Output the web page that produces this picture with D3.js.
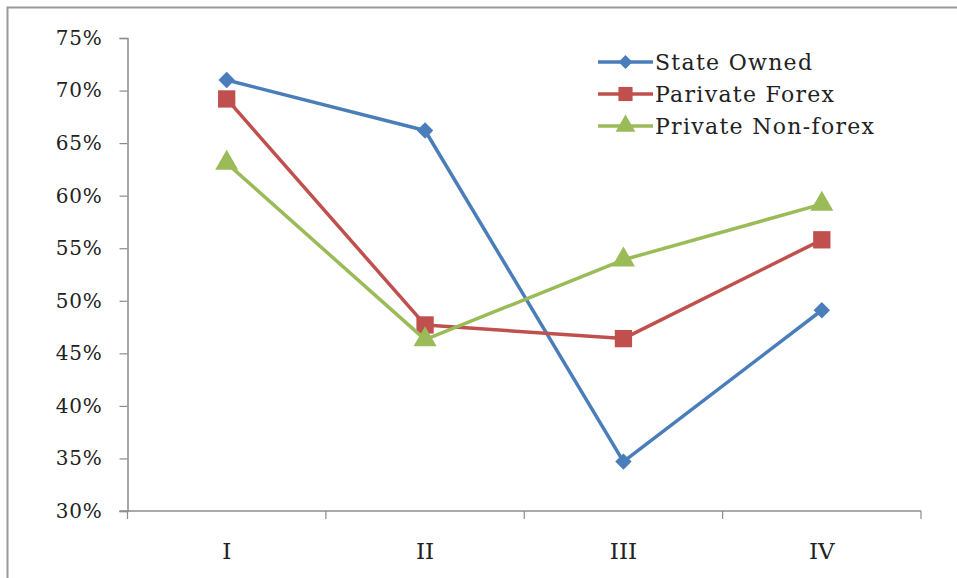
<!DOCTYPE html>
<html>
<head>
<meta charset="utf-8">
<script src="https://cdn.jsdelivr.net/npm/d3@7"></script>
<style>
  html, body { margin: 0; padding: 0; background: #fff; }
  svg { display: block; }
  text { font-family: "DejaVu Serif", "Liberation Serif", serif; fill: #222; }
</style>
</head>
<body>
<svg id="chart" width="957" height="578"></svg>
<script>
// Quarters on the x axis
const categories = ["I", "II", "III", "IV"];

// Share by bank group (percent)
const stateOwned = [71.0, 66.2, 34.7, 49.1];
const parivateForex = [69.2, 47.7, 46.4, 55.8];
const privateNonForex = [63.1, 46.3, 53.9, 59.2];

const yTicks = [30, 35, 40, 45, 50, 55, 60, 65, 70, 75];

const seriesNames = ["State Owned", "Parivate Forex", "Private Non-forex"];
const seriesColors = ["#4a7ebb", "#c0504d", "#9bbb59"];

// Marker shapes: diamond is a square turned 45 degrees
const markerDefs = [
  { type: d3.symbolSquare, size: 135, rotate: 45 },
  { type: d3.symbolSquare, size: 300, rotate: 0 },
  { type: d3.symbolTriangle, size: 230, rotate: 0 }
];
const legendMarkerDefs = [
  { type: d3.symbolSquare, size: 95, rotate: 45 },
  { type: d3.symbolSquare, size: 200, rotate: 0 },
  { type: d3.symbolTriangle, size: 170, rotate: 0 }
];
const seriesValues = [stateOwned, parivateForex, privateNonForex];

const svg = d3.select("#chart");

// Outer frame (top and left edges)
svg.append("path")
  .attr("d", "M7.5,578 V7.5 H957")
  .attr("fill", "none")
  .attr("stroke", "#9a9a9a")
  .attr("stroke-width", 2);

const plot = { left: 127.5, right: 921, top: 38, bottom: 511 };

const x = d3.scaleBand().domain(categories).range([plot.left, plot.right]);
const y = d3.scaleLinear().domain([30, 75]).range([plot.bottom, plot.top]);

// Y axis
const yAxis = svg.append("g")
  .attr("transform", `translate(${plot.left},0)`)
  .call(d3.axisLeft(y).tickValues(yTicks).tickSize(8).tickPadding(17)
    .tickFormat(d => d + "%"));
yAxis.select(".domain").attr("stroke", "#8c8c8c").attr("stroke-width", 1.5);
yAxis.selectAll(".tick line").attr("stroke", "#8c8c8c").attr("stroke-width", 1.2);
yAxis.selectAll(".tick text")
  .attr("font-size", 20)
  .attr("letter-spacing", 0.8)
  .attr("font-family", "DejaVu Serif, serif")
  .attr("fill", "#333");

// X axis with tick marks on band boundaries
const xAxis = svg.append("g")
  .attr("transform", `translate(0,${plot.bottom})`);
xAxis.append("line")
  .attr("x1", plot.left - 8).attr("x2", plot.right)
  .attr("stroke", "#8c8c8c").attr("stroke-width", 1.5);
const bounds = categories.map(c => x(c)).concat([x(categories[categories.length - 1]) + x.bandwidth()]);
xAxis.selectAll("line.xt").data(bounds).join("line")
  .attr("class", "xt")
  .attr("x1", d => d).attr("x2", d => d)
  .attr("y1", 0).attr("y2", 8)
  .attr("stroke", "#8c8c8c").attr("stroke-width", 1.2);
xAxis.selectAll("text").data(categories).join("text")
  .attr("x", d => x(d) + x.bandwidth() / 2)
  .attr("y", 48)
  .attr("text-anchor", "middle")
  .attr("font-size", 23)
  .attr("font-family", "Liberation Serif, serif")
  .attr("fill", "#222")
  .text(d => d);

const cx = c => x(c) + x.bandwidth() / 2;
const line = d3.line().x((d, i) => cx(categories[i])).y(d => y(d));

// Series lines and markers
seriesValues.forEach((vals, s) => {
  const g = svg.append("g");
  g.append("path")
    .attr("d", line(vals))
    .attr("fill", "none")
    .attr("stroke", seriesColors[s])
    .attr("stroke-width", 3.5)
    .attr("stroke-linejoin", "round");
  const m = markerDefs[s];
  g.selectAll("path.m").data(vals).join("path")
    .attr("class", "m")
    .attr("transform", (d, i) => `translate(${cx(categories[i])},${y(d)}) rotate(${m.rotate})`)
    .attr("d", d3.symbol().type(m.type).size(m.size))
    .attr("fill", seriesColors[s]);
});

// Legend
const legend = svg.append("g").attr("transform", "translate(598,62)");
seriesNames.forEach((name, s) => {
  const row = legend.append("g").attr("transform", `translate(0,${s * 32})`);
  row.append("line")
    .attr("x1", 0).attr("x2", 55)
    .attr("stroke", seriesColors[s]).attr("stroke-width", 3.5);
  const m = legendMarkerDefs[s];
  row.append("path")
    .attr("transform", `translate(27.5,0) rotate(${m.rotate})`)
    .attr("d", d3.symbol().type(m.type).size(m.size))
    .attr("fill", seriesColors[s]);
  row.append("text")
    .attr("x", 57).attr("y", 8)
    .attr("font-size", 22)
    .attr("letter-spacing", 1.3)
    .attr("font-family", "DejaVu Serif, serif")
    .attr("fill", "#222")
    .text(name);
});
</script>
</body>
</html>
